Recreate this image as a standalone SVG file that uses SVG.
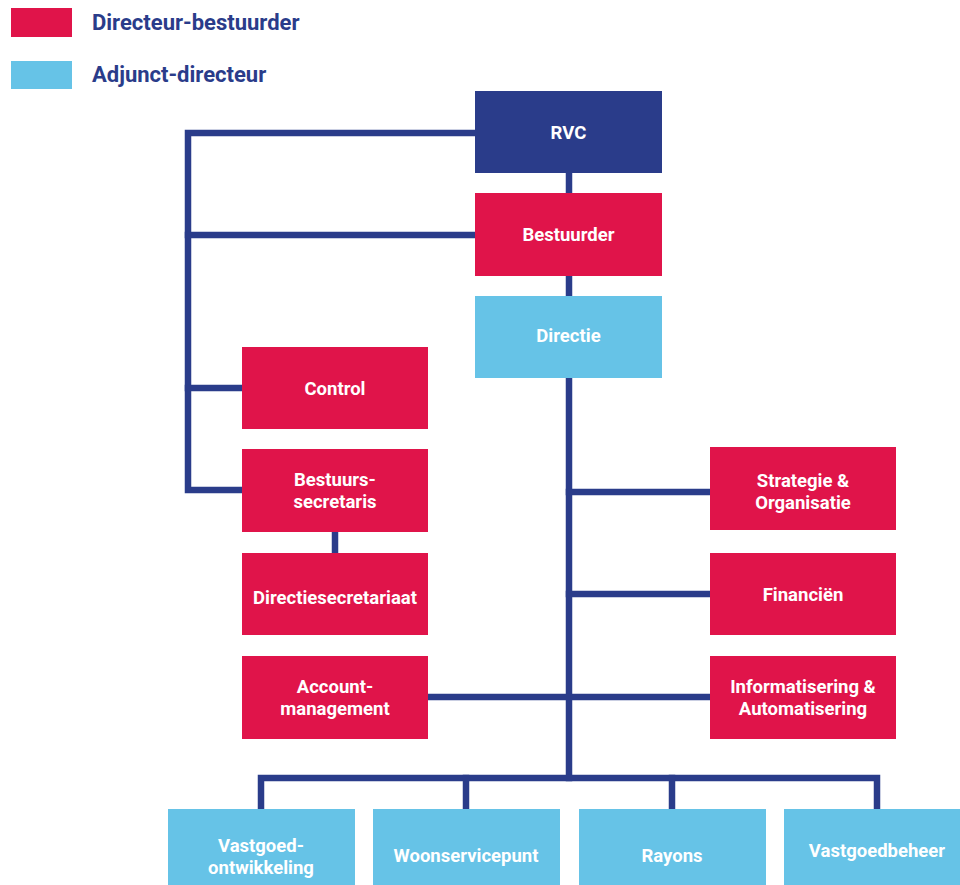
<svg xmlns="http://www.w3.org/2000/svg" width="960" height="885" viewBox="0 0 960 885">
<style>
.red{fill:#e0144a}
.blue{fill:#66c3e7}
.navy{fill:#2a3c8a}
.t{font-family:Roboto,"Liberation Sans",sans-serif;font-weight:700;font-size:18.5px;fill:#ffffff;text-anchor:middle}
.leg{font-family:Roboto,"Liberation Sans",sans-serif;font-weight:700;font-size:22px;fill:#2a3c8a}
.c{fill:none;stroke:#2a3c8a;stroke-width:6.5;stroke-linecap:square;stroke-linejoin:miter}
</style>
<rect width="960" height="885" fill="#ffffff"/>
<g id="legend">
<rect class="red" x="11" y="8" width="61" height="29"/>
<text class="leg" x="92" y="30">Directeur-bestuurder</text>
<rect class="blue" x="11" y="61" width="61" height="28"/>
<text class="leg" x="92" y="82">Adjunct-directeur</text>
</g>
<g id="connectors">
<polyline class="c" points="475,133 188,133 188,490 242,490"/>
<line class="c" x1="188" y1="235" x2="475" y2="235"/>
<line class="c" x1="188" y1="388" x2="242" y2="388"/>
<line class="c" x1="569" y1="173" x2="569" y2="778"/>
<line class="c" x1="335" y1="532" x2="335" y2="553"/>
<line class="c" x1="569" y1="492" x2="710" y2="492"/>
<line class="c" x1="569" y1="594" x2="710" y2="594"/>
<line class="c" x1="428" y1="697" x2="710" y2="697"/>
<polyline class="c" points="261,809 261,778 877,778 877,809"/>
<line class="c" x1="466" y1="778" x2="466" y2="809"/>
<line class="c" x1="672" y1="778" x2="672" y2="809"/>
</g>
<g id="rvc"><rect class="navy" x="475" y="91" width="187" height="82"/><text class="t" x="568.5" y="139">RVC</text></g>
<g id="bestuurder"><rect class="red" x="475" y="193" width="187" height="83"/><text class="t" x="568.5" y="241">Bestuurder</text></g>
<g id="directie"><rect class="blue" x="475" y="296" width="187" height="82"/><text class="t" x="568.5" y="342">Directie</text></g>
<g id="control"><rect class="red" x="242" y="347" width="186" height="82"/><text class="t" x="335" y="395">Control</text></g>
<g id="bestuurssecretaris"><rect class="red" x="242" y="449" width="186" height="83"/><text class="t" x="335" y="486">Bestuurs-</text><text class="t" x="335" y="508">secretaris</text></g>
<g id="directiesecretariaat"><rect class="red" x="242" y="553" width="186" height="82"/><text class="t" x="335" y="604">Directiesecretariaat</text></g>
<g id="accountmanagement"><rect class="red" x="242" y="656" width="186" height="83"/><text class="t" x="335" y="693">Account-</text><text class="t" x="335" y="715">management</text></g>
<g id="strategie"><rect class="red" x="710" y="447" width="186" height="83"/><text class="t" x="803" y="487">Strategie &amp;</text><text class="t" x="803" y="509">Organisatie</text></g>
<g id="financien"><rect class="red" x="710" y="553" width="186" height="82"/><text class="t" x="803" y="601">Financiën</text></g>
<g id="informatisering"><rect class="red" x="710" y="656" width="186" height="83"/><text class="t" x="803" y="693">Informatisering &amp;</text><text class="t" x="803" y="715">Automatisering</text></g>
<g id="vastgoedontwikkeling"><rect class="blue" x="168" y="809" width="187" height="76"/><text class="t" x="261" y="852">Vastgoed-</text><text class="t" x="261" y="874">ontwikkeling</text></g>
<g id="woonservicepunt"><rect class="blue" x="373" y="809" width="187" height="76"/><text class="t" x="466" y="862">Woonservicepunt</text></g>
<g id="rayons"><rect class="blue" x="579" y="809" width="187" height="76"/><text class="t" x="672" y="862">Rayons</text></g>
<g id="vastgoedbeheer"><rect class="blue" x="784" y="809" width="187" height="76"/><text class="t" x="877" y="857">Vastgoedbeheer</text></g>
</svg>
